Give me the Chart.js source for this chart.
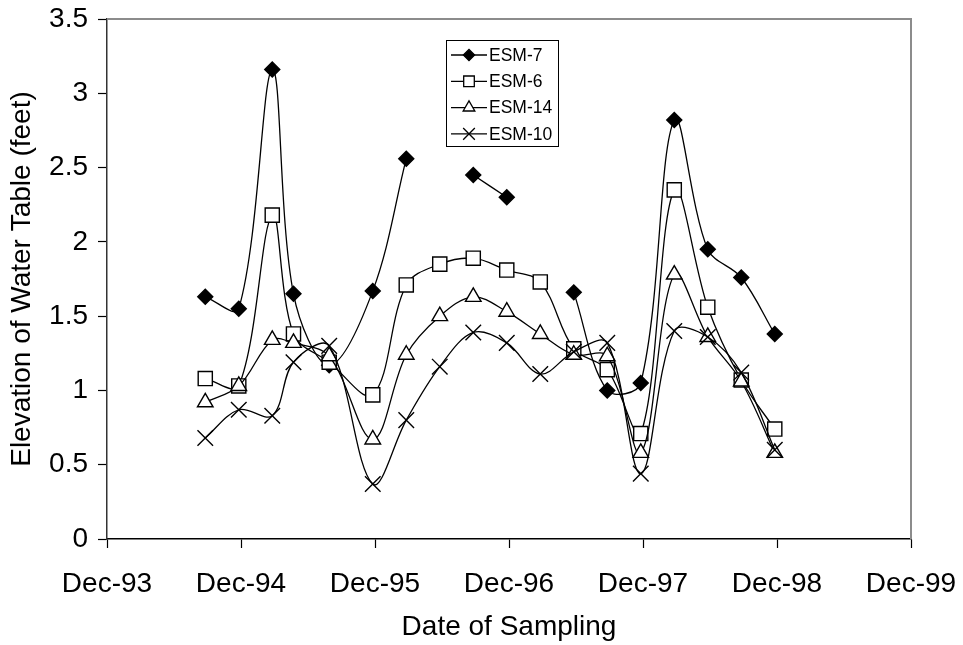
<!DOCTYPE html>
<html>
<head>
<meta charset="utf-8">
<title>Elevation of Water Table</title>
<script src="https://cdn.jsdelivr.net/npm/chart.js@4.4.1/dist/chart.umd.min.js"></script>
<style>
    html, body { margin: 0; padding: 0; background: #fff; }
    #wrap { width: 963px; height: 645px; }
</style>
</head>
<body>
<div id="wrap"><canvas id="waterChart" width="963" height="645"></canvas></div>
<script>
(function () {
    // months counted from Dec-93
    const sampleMonths = [8.8, 11.8, 14.8, 16.7, 19.9, 23.8, 26.8, 29.8, 32.8, 35.8, 38.8, 41.8, 44.8, 47.8, 50.8, 53.8, 56.8, 59.8];
    const tickLabels = ['Dec-93', 'Dec-94', 'Dec-95', 'Dec-96', 'Dec-97', 'Dec-98', 'Dec-99'];

    const esm7 = [1.63, 1.55, 3.16, 1.65, 1.17, 1.67, 2.56, null, 2.45, 2.30, null, 1.66, 1.00, 1.05, 2.82, 1.95, 1.76, 1.38];
    const esm6 = [1.08, 1.03, 2.18, 1.38, 1.19, 0.97, 1.71, 1.85, 1.89, 1.81, 1.73, 1.28, 1.14, 0.71, 2.35, 1.56, 1.07, 0.74];
    const esm14 = [0.92, 1.03, 1.34, 1.32, 1.23, 0.67, 1.24, 1.50, 1.63, 1.53, 1.38, 1.24, 1.23, 0.58, 1.78, 1.36, 1.06, 0.58];
    const esm10 = [0.68, 0.87, 0.83, 1.19, 1.30, 0.37, 0.80, 1.16, 1.39, 1.32, 1.11, 1.26, 1.32, 0.44, 1.40, 1.36, 1.12, 0.60];

    const FONT = '"Liberation Sans", Arial, sans-serif';

    function toPoints(values) {
        return values.map((v, i) => ({ x: sampleMonths[i], y: v }));
    }

    function series(label, values, style, radius, fill, order) {
        return {
            label: label,
            data: toPoints(values),
            borderColor: '#000',
            borderWidth: 1.3,
            tension: 0.35,
            spanGaps: false,
            pointStyle: style,
            pointRadius: radius,
            pointHoverRadius: radius,
            pointBackgroundColor: fill,
            pointBorderColor: '#000',
            pointBorderWidth: 1.4,
            order: order,
        };
    }

    const plotFrame = {
        id: 'plotFrame',
        beforeDatasetsDraw(chart) {
            const a = chart.chartArea;
            const ctx = chart.ctx;
            ctx.save();
            ctx.strokeStyle = '#8c8c8c';
            ctx.lineWidth = 2;
            ctx.beginPath();
            ctx.moveTo(a.left, a.top);
            ctx.lineTo(a.right, a.top);
            ctx.lineTo(a.right, a.bottom);
            ctx.stroke();
            ctx.restore();
        }
    };

    const legendBox = {
        id: 'legendBox',
        afterDatasetsDraw(chart) {
            const ctx = chart.ctx;
            const x0 = 446, y0 = 40, w = 112, h = 106;
            ctx.save();
            ctx.fillStyle = '#fff';
            ctx.fillRect(x0, y0, w, h);
            ctx.strokeStyle = '#000';
            ctx.lineWidth = 1;
            ctx.strokeRect(x0 + 0.5, y0 + 0.5, w, h);
            ctx.font = '17.5px ' + FONT;
            ctx.textBaseline = 'middle';
            chart.data.datasets.forEach((ds, i) => {
                const y = y0 + 15 + i * 26.3;
                ctx.strokeStyle = '#000';
                ctx.lineWidth = 1.3;
                ctx.beginPath();
                ctx.moveTo(x0 + 5, y);
                ctx.lineTo(x0 + 41, y);
                ctx.stroke();
                ctx.fillStyle = ds.pointBackgroundColor;
                Chart.helpers.drawPoint(ctx, {
                    pointStyle: ds.pointStyle,
                    radius: ds.pointRadius * 0.75,
                    rotation: 0,
                    borderWidth: 1.3,
                }, x0 + 23, y);
                ctx.fillStyle = '#000';
                ctx.fillText(ds.label, x0 + 43, y + 1);
            });
            ctx.restore();
        }
    };

    new Chart(document.getElementById('waterChart'), {
        type: 'line',
        data: {
            datasets: [
                series('ESM-7', esm7, 'rectRot', 7.5, '#000', 4),
                series('ESM-6', esm6, 'rect', 10, '#fff', 3),
                series('ESM-14', esm14, 'triangle', 9, '#fff', 2),
                series('ESM-10', esm10, 'crossRot', 11, '#fff', 1),
            ],
        },
        options: {
            responsive: false,
            devicePixelRatio: 1,
            animation: false,
            events: [],
            layout: { padding: { left: 0, right: 52, top: 19, bottom: 0 } },
            plugins: {
                legend: { display: false },
                tooltip: { enabled: false },
            },
            scales: {
                x: {
                    type: 'linear',
                    min: 0,
                    max: 72,
                    afterFit(scale) {
                        scale.height = 106;
                        scale.paddingLeft = 0;
                        scale.paddingRight = 0;
                    },
                    afterBuildTicks(scale) {
                        scale.ticks = tickLabels.map((t, i) => ({ value: i * 12 }));
                    },
                    ticks: {
                        color: '#000',
                        font: { family: FONT, size: 28 },
                        padding: 19,
                        maxRotation: 0,
                        callback: (v) => tickLabels[Math.round(v / 12)],
                    },
                    grid: { drawOnChartArea: false, tickLength: 9, color: '#000', tickWidth: 1.2 },
                    border: { color: '#000', width: 1.5 },
                    title: {
                        display: true,
                        text: 'Date of Sampling',
                        color: '#000',
                        font: { family: FONT, size: 28 },
                        padding: { top: 0, bottom: 1 },
                    },
                },
                y: {
                    min: 0,
                    max: 3.5,
                    afterFit(scale) {
                        scale.width = 107;
                        scale.paddingTop = 0;
                        scale.paddingBottom = 0;
                    },
                    ticks: {
                        stepSize: 0.5,
                        color: '#000',
                        font: { family: FONT, size: 28 },
                        padding: 10,
                        callback: (v) => String(v),
                    },
                    grid: { drawOnChartArea: false, tickLength: 9, color: '#000', tickWidth: 1.2 },
                    border: { color: '#333', width: 1.5 },
                    title: {
                        display: true,
                        text: 'Elevation of Water Table (feet)',
                        color: '#000',
                        font: { family: FONT, size: 28 },
                        padding: { top: 5, bottom: 0 },
                    },
                },
            },
        },
        plugins: [plotFrame, legendBox],
    });
})();
</script>
</body>
</html>
